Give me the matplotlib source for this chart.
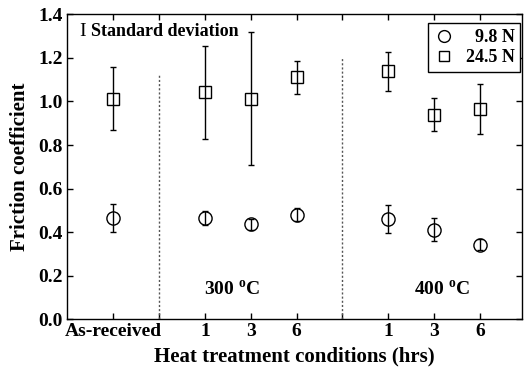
import matplotlib
matplotlib.use("Agg")
import matplotlib.pyplot as plt
from matplotlib.lines import Line2D
import numpy as np

plt.rcParams['font.family'] = 'Liberation Serif'
plt.rcParams['font.weight'] = 'bold'
plt.rcParams['mathtext.fontset'] = 'custom'
plt.rcParams['mathtext.rm'] = 'Liberation Serif:bold'
plt.rcParams['mathtext.bf'] = 'Liberation Serif:bold'

# data
x_pos = [1, 3, 4, 5, 7, 8, 9]
tick_pos = [1, 2, 3, 4, 5, 6, 7, 8, 9]
tick_labels = ['As-received', '', '1', '3', '6', '', '1', '3', '6']

mu_low = [0.466, 0.465, 0.436, 0.479, 0.459, 0.412, 0.343]      # 9.8 N
sd_low = [0.065, 0.030, 0.025, 0.030, 0.064, 0.052, 0.025]
mu_high = [1.013, 1.041, 1.013, 1.110, 1.139, 0.940, 0.964]     # 24.5 N
sd_high = [0.143, 0.215, 0.307, 0.075, 0.090, 0.078, 0.114]

divider_x = [2, 6]
divider_top = [1.12, 1.20]

fig = plt.figure(figsize=(5.24, 3.72), dpi=100)
ax = fig.add_axes([0.1284, 0.1417, 0.8672, 0.8199])

ax.errorbar(x_pos, mu_low, yerr=sd_low, fmt='o', ms=9.5, mfc='none', mec='black',
            mew=1.0, ecolor='black', elinewidth=1.0, capsize=2, capthick=1.0)
ax.errorbar(x_pos, mu_high, yerr=sd_high, fmt='s', ms=8.5, mfc='none', mec='black',
            mew=1.0, ecolor='black', elinewidth=1.0, capsize=2, capthick=1.0)

for xd, top in zip(divider_x, divider_top):
    ax.vlines(xd, 0, top, colors='#555555', linestyles=(0, (1.5, 1.5)), linewidth=1.0)

ax.set_xlim(0, 9.91)
ax.set_ylim(0, 1.4)
ax.set_xticks(tick_pos)
ax.set_xticklabels(tick_labels)
ax.set_yticks(np.arange(0, 1.41, 0.2))
ax.set_yticklabels([f'{v:.1f}' for v in np.arange(0, 1.41, 0.2)])
ax.tick_params(direction='in', top=True, right=True, length=4, width=1,
               labelsize=14, pad=3)
for s in ax.spines.values():
    s.set_linewidth(1.0)

ax.set_xlabel('Heat treatment conditions (hrs)', fontsize=15, fontweight='bold', labelpad=4)
ax.set_ylabel('Friction coefficient', fontsize=15, fontweight='bold', labelpad=6)

ax.text(3.6, 0.135, '300 $^{\\mathbf{o}}$C', fontsize=14, fontweight='bold', ha='center', va='center')
ax.text(8.17, 0.135, '400 $^{\\mathbf{o}}$C', fontsize=14, fontweight='bold', ha='center', va='center')

ax.text(0.026, 0.942, 'I', transform=ax.transAxes, fontsize=14, fontweight='normal',
        ha='left', va='center')
ax.text(0.052, 0.942, 'Standard deviation', transform=ax.transAxes, fontsize=13,
        fontweight='bold', ha='left', va='center')

handles = [Line2D([], [], marker='o', ls='none', ms=8.5, mfc='none', mec='black', mew=1.0),
           Line2D([], [], marker='s', ls='none', ms=7.5, mfc='none', mec='black', mew=1.0)]
leg = ax.legend(handles, ['  9.8 N', '24.5 N'], loc='upper right',
                bbox_to_anchor=(0.997, 0.97), fontsize=13,
                frameon=True, fancybox=False, edgecolor='black', framealpha=1,
                handletextpad=0.6, borderpad=0.3, labelspacing=0.2, handlelength=1.2,
                borderaxespad=0.0)
leg.get_frame().set_linewidth(1.0)

fig.savefig('out.png', dpi=100)
